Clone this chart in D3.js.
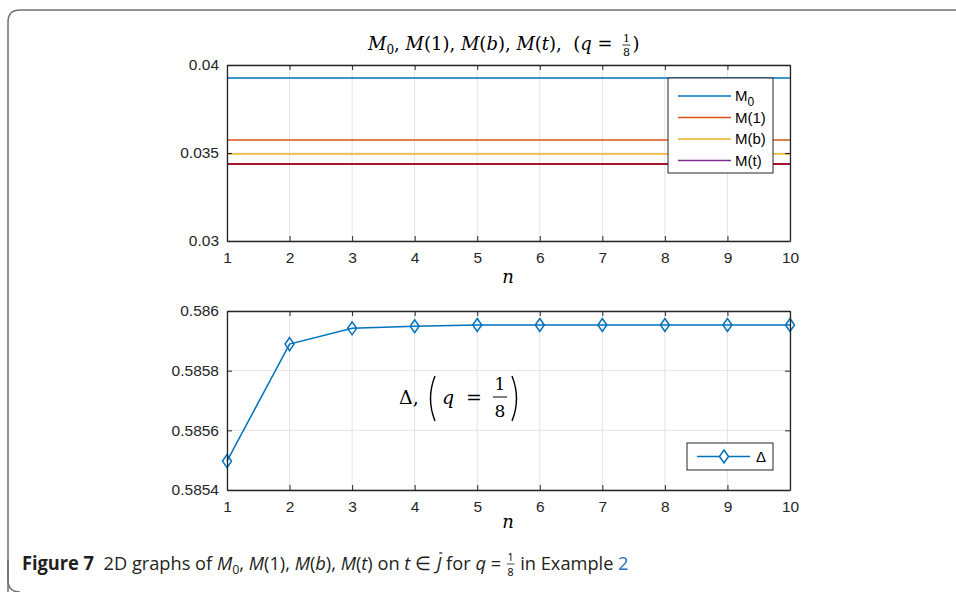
<!DOCTYPE html>
<html>
<head>
<meta charset="utf-8">
<script src="https://cdn.jsdelivr.net/npm/d3@7"></script>
<style>
  body { margin: 0; background: #fff; }
  .axis path, .axis line { stroke: #262626; }
  text { white-space: pre; }
</style>
</head>
<body>
<div id="chart"></div>
<script>
// donnees
const nValues = [1, 2, 3, 4, 5, 6, 7, 8, 9, 10];
const M0 = [0.03926, 0.03926, 0.03926, 0.03926, 0.03926, 0.03926, 0.03926, 0.03926, 0.03926, 0.03926];
const M1 = [0.03574, 0.03574, 0.03574, 0.03574, 0.03574, 0.03574, 0.03574, 0.03574, 0.03574, 0.03574];
const Mb = [0.03495, 0.03495, 0.03495, 0.03495, 0.03495, 0.03495, 0.03495, 0.03495, 0.03495, 0.03495];
const Mt = [0.03437, 0.03437, 0.03437, 0.03437, 0.03437, 0.03437, 0.03437, 0.03437, 0.03437, 0.03437];
const delta = [0.585497, 0.585889, 0.585942, 0.585949, 0.585953, 0.585953, 0.585953, 0.585953, 0.585953, 0.585953];

const topTicks = [0.03, 0.035, 0.04];
const bottomTicks = [0.5854, 0.5856, 0.5858, 0.586];
const topSeries = [
  {name: "M0", values: M0, color: "#0072bd"},
  {name: "M(1)", values: M1, color: "#d95319"},
  {name: "M(b)", values: Mb, color: "#edb120"},
  {name: "M(t)", values: Mt, color: "#7e2f8e"}
];

const SANS = "Liberation Sans, Arial, sans-serif";
const SERIF = "DejaVu Serif, Liberation Serif, serif";
const CAP = "Open Sans, sans-serif";

const width = 956, height = 592;
const svg = d3.select("#chart").append("svg")
    .attr("width", width)
    .attr("height", height);

// cadre de la figure (arrondi a gauche)
svg.append("path")
    .attr("d", "M8,600 L8,22 Q8,10 20,10 L960,10")
    .attr("fill", "none")
    .attr("stroke", "#707070")
    .attr("stroke-width", 1.5);
svg.append("path")
    .attr("d", "M8,560 L8,580 Q8,592 20,592")
    .attr("fill", "none")
    .attr("stroke", "#707070")
    .attr("stroke-width", 1.5);

const x = d3.scaleLinear().domain([1, 10]).range([227, 790]);
const yTop = d3.scaleLinear().domain([0.03, 0.04]).range([241, 65]);
const yBot = d3.scaleLinear().domain([0.5854, 0.586]).range([490, 311]);

function txt(sel, family, size) {
    return sel.style("font-family", family).style("font-size", size + "px");
}

function drawFrame(y, ticks) {
    const g = svg.append("g");
    const [y0, y1] = y.range();
    // grille
    g.selectAll(".vgrid").data(nValues).enter().append("line")
        .attr("x1", d => x(d)).attr("x2", d => x(d))
        .attr("y1", y1).attr("y2", y0)
        .attr("stroke", "#e3e3e3");
    g.selectAll(".hgrid").data(ticks).enter().append("line")
        .attr("x1", x(1)).attr("x2", x(10))
        .attr("y1", d => y(d)).attr("y2", d => y(d))
        .attr("stroke", "#e3e3e3");
    return g;
}

function drawAxes(y, ticks) {
    const [y0, y1] = y.range();
    const gb = svg.append("g").attr("class", "axis")
        .attr("transform", "translate(0," + y0 + ")")
        .call(d3.axisBottom(x).tickValues(nValues).tickFormat(d3.format("d")).tickSizeInner(-5).tickSizeOuter(0).tickPadding(11));
    svg.append("g").attr("class", "axis")
        .attr("transform", "translate(0," + y1 + ")")
        .call(d3.axisTop(x).tickValues(nValues).tickFormat("").tickSizeInner(-5).tickSizeOuter(0));
    const gl = svg.append("g").attr("class", "axis")
        .attr("transform", "translate(" + x(1) + ",0)")
        .call(d3.axisLeft(y).tickValues(ticks).tickFormat(d => String(+d.toFixed(5))).tickSizeInner(-5).tickSizeOuter(0).tickPadding(8));
    svg.append("g").attr("class", "axis")
        .attr("transform", "translate(" + x(10) + ",0)")
        .call(d3.axisRight(y).tickValues(ticks).tickFormat("").tickSizeInner(-5).tickSizeOuter(0));
    svg.selectAll(".axis .domain").attr("stroke-width", 1.3);
    [gb, gl].forEach(g => txt(g.selectAll(".tick text"), SANS, 15.5).attr("fill", "#262626"));
}

// parenthese fine dessinee (gauche: dir=1, droite: dir=-1)
function paren(cx, yTopP, yBotP, dir) {
    const mid = (yTopP + yBotP) / 2;
    svg.append("path")
        .attr("d", "M" + (cx + 4 * dir) + "," + yTopP + " Q" + (cx - 5 * dir) + "," + mid + " " + (cx + 4 * dir) + "," + yBotP)
        .attr("fill", "none").attr("stroke", "#000").attr("stroke-width", 1.4);
}

// ---- graphique du haut ----
drawFrame(yTop, topTicks);
topSeries.forEach(s => {
    const line = d3.line().x((d, i) => x(nValues[i])).y(d => yTop(d));
    svg.append("path")
        .datum(s.values)
        .attr("fill", "none")
        .attr("stroke", s.name === "M(t)" ? "#a2142f" : s.color)
        .attr("stroke-width", s.name === "M(t)" ? 2 : 1.5)
        .attr("d", line);
});
drawAxes(yTop, topTicks);

// legende du haut
const leg = svg.append("g");
leg.append("rect").attr("x", 668).attr("y", 78).attr("width", 105).attr("height", 95)
    .attr("fill", "#fff").attr("stroke", "#262626").attr("stroke-width", 1);
topSeries.forEach((s, i) => {
    const ly = 96 + i * 21.5;
    leg.append("line").attr("x1", 678).attr("x2", 731).attr("y1", ly).attr("y2", ly)
        .attr("stroke", s.color).attr("stroke-width", 1.5);
    const t = txt(leg.append("text"), SANS, 15).attr("x", 735).attr("y", ly + 5).attr("fill", "#000");
    if (s.name === "M0") {
        t.text("M");
        t.append("tspan").attr("dy", 5).style("font-size", "12px").text("0");
    } else {
        t.text(s.name);
    }
});

// titre du haut
const title = txt(svg.append("text"), SERIF, 18).attr("x", 368).attr("y", 50).attr("fill", "#000");
title.append("tspan").attr("font-style", "italic").text("M");
title.append("tspan").attr("dy", 4).style("font-size", "12px").text("0");
title.append("tspan").attr("dy", -4).text(", ");
title.append("tspan").attr("font-style", "italic").text("M");
title.append("tspan").text("(1), ");
title.append("tspan").attr("font-style", "italic").text("M");
title.append("tspan").text("(");
title.append("tspan").attr("font-style", "italic").text("b");
title.append("tspan").text("), ");
title.append("tspan").attr("font-style", "italic").text("M");
title.append("tspan").text("(");
title.append("tspan").attr("font-style", "italic").text("t");
title.append("tspan").text("),  (");
title.append("tspan").attr("font-style", "italic").text("q");
title.append("tspan").text(" = ");
const tw = title.node().getComputedTextLength();
const fx = 368 + tw + 8;
txt(svg.append("text"), SERIF, 11).attr("x", fx).attr("y", 42).attr("text-anchor", "middle").text("1");
svg.append("line").attr("x1", fx - 4).attr("x2", fx + 4).attr("y1", 45).attr("y2", 45)
    .attr("stroke", "#000").attr("stroke-width", 0.8);
txt(svg.append("text"), SERIF, 11).attr("x", fx).attr("y", 56).attr("text-anchor", "middle").text("8");
txt(svg.append("text"), SERIF, 18).attr("x", fx + 6).attr("y", 50).text(")");

// etiquettes d'axe n
[283, 528].forEach(yy => {
    txt(svg.append("text"), SERIF, 18).attr("x", 508).attr("y", yy)
        .attr("text-anchor", "middle").attr("font-style", "italic").text("n");
});

// ---- graphique du bas ----
drawFrame(yBot, bottomTicks);
const blue = "#0072bd";
const lineBot = d3.line().x((d, i) => x(nValues[i])).y(d => yBot(d));
svg.append("path")
    .datum(delta)
    .attr("fill", "none")
    .attr("stroke", blue)
    .attr("stroke-width", 1.5)
    .attr("d", lineBot);
const diamond = "M0,-6.5L4.5,0L0,6.5L-4.5,0Z";
svg.selectAll(".pt").data(delta).enter().append("path")
    .attr("d", diamond)
    .attr("transform", (d, i) => "translate(" + x(nValues[i]) + "," + yBot(d) + ")")
    .attr("fill", "none").attr("stroke", blue).attr("stroke-width", 1.5);
drawAxes(yBot, bottomTicks);

// annotation Delta
txt(svg.append("text"), SERIF, 19).attr("x", 399).attr("y", 404).text("Δ,");
paren(431, 376, 421, 1);
txt(svg.append("text"), SERIF, 19).attr("x", 442).attr("y", 404).attr("font-style", "italic").text("q");
txt(svg.append("text"), SERIF, 19).attr("x", 466).attr("y", 404).text("=");
txt(svg.append("text"), SERIF, 17).attr("x", 500).attr("y", 390).attr("text-anchor", "middle").text("1");
svg.append("line").attr("x1", 493).attr("x2", 507).attr("y1", 397).attr("y2", 397)
    .attr("stroke", "#000").attr("stroke-width", 1);
txt(svg.append("text"), SERIF, 17).attr("x", 500).attr("y", 417).attr("text-anchor", "middle").text("8");
paren(516, 376, 421, -1);

// legende du bas
const leg2 = svg.append("g");
leg2.append("rect").attr("x", 687).attr("y", 443).attr("width", 86).attr("height", 27)
    .attr("fill", "#fff").attr("stroke", "#262626").attr("stroke-width", 1);
leg2.append("line").attr("x1", 697).attr("x2", 750).attr("y1", 456.5).attr("y2", 456.5)
    .attr("stroke", blue).attr("stroke-width", 1.5);
leg2.append("path").attr("d", diamond).attr("transform", "translate(724,456.5)")
    .attr("fill", "#fff").attr("stroke", blue).attr("stroke-width", 1.5);
txt(leg2.append("text"), SANS, 15).attr("x", 756).attr("y", 462).text("Δ");

// legende de la figure
const capG = svg.append("g").attr("transform", "translate(22,0) scale(0.96,1)");
const cap = txt(capG.append("text"), CAP, 19).attr("x", 0).attr("y", 570).attr("fill", "#231f20");
cap.append("tspan").attr("font-weight", "bold").text("Figure 7");
cap.append("tspan").text("  2D graphs of ");
cap.append("tspan").attr("font-style", "italic").text("M");
cap.append("tspan").attr("dy", 4).style("font-size", "13px").text("0");
cap.append("tspan").attr("dy", -4).text(", ");
cap.append("tspan").attr("font-style", "italic").text("M");
cap.append("tspan").text("(1), ");
cap.append("tspan").attr("font-style", "italic").text("M");
cap.append("tspan").text("(");
cap.append("tspan").attr("font-style", "italic").text("b");
cap.append("tspan").text("), ");
cap.append("tspan").attr("font-style", "italic").text("M");
cap.append("tspan").text("(");
cap.append("tspan").attr("font-style", "italic").text("t");
cap.append("tspan").text(") on ");
cap.append("tspan").attr("font-style", "italic").text("t");
cap.append("tspan").text(" ∈ ");
const jSpan = cap.append("tspan").attr("font-style", "italic").text("J");
cap.append("tspan").text(" for ");
cap.append("tspan").attr("font-style", "italic").text("q");
cap.append("tspan").text(" = ");
// barre au-dessus du J
const jBox = jSpan.node().getExtentOfChar(0);
capG.append("line").attr("x1", jBox.x + 3).attr("x2", jBox.x + jBox.width + 1)
    .attr("y1", 553).attr("y2", 553).attr("stroke", "#231f20").attr("stroke-width", 1.3);
const capW = cap.node().getComputedTextLength();
const cfx = capW + 5;
txt(capG.append("text"), CAP, 11).attr("x", cfx).attr("y", 561).attr("text-anchor", "middle").text("1");
capG.append("line").attr("x1", cfx - 4).attr("x2", cfx + 4).attr("y1", 564).attr("y2", 564)
    .attr("stroke", "#231f20").attr("stroke-width", 0.8);
txt(capG.append("text"), CAP, 11).attr("x", cfx).attr("y", 576).attr("text-anchor", "middle").text("8");
const cap2 = txt(capG.append("text"), CAP, 19).attr("x", cfx + 10).attr("y", 570).attr("fill", "#231f20");
cap2.append("tspan").text("in Example ");
cap2.append("tspan").attr("fill", "#2a6ebb").text("2");
</script>
</body>
</html>
